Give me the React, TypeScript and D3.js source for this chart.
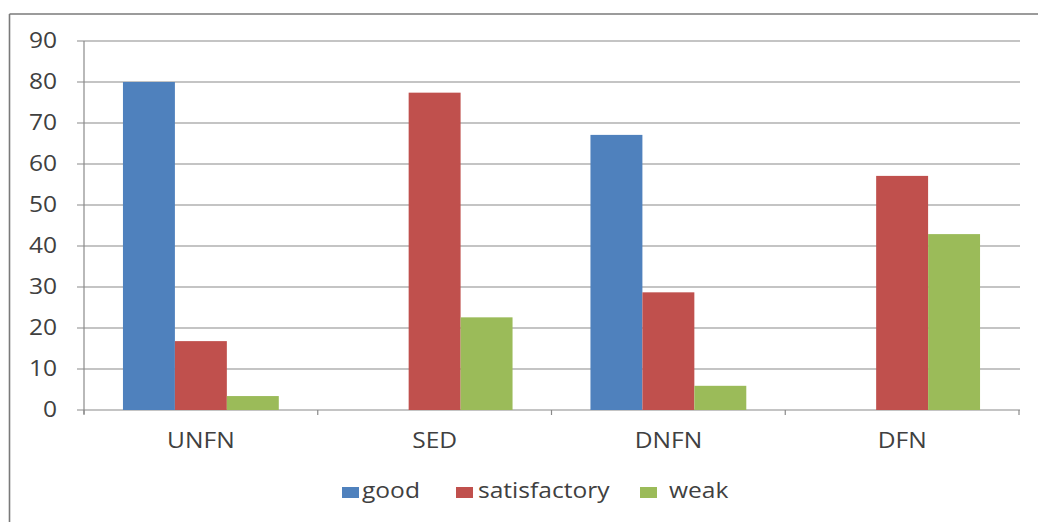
import React from "react";
import * as d3 from "d3";

const categories = ["UNFN", "SED", "DNFN", "DFN"];
const seriesNames = ["good", "satisfactory", "weak"];
const good = [80, 0, 67.1, 0];
const satisfactory = [16.8, 77.4, 28.7, 57.1];
const weak = [3.4, 22.6, 5.9, 42.9];
const yTicks = [0, 10, 20, 30, 40, 50, 60, 70, 80, 90];
const colors = ["#4F81BD", "#C0504D", "#9BBB59"];

const W = 1038;
const H = 522;
const plot = { left: 84, right: 1019, top: 41, bottom: 410 };
const font = "'Open Sans', 'Noto Sans', sans-serif";
const textColor = "#404040";
const axisColor = "#8a8a8a";
const stretch = 1.17;

// Text drawn slightly widened, anchored at (x, y)
function Label(props: { x: number; y: number; anchor?: "start" | "middle" | "end"; size?: number; children: React.ReactNode }) {
  const { x, y, anchor = "start", size = 21, children } = props;
  return (
    <g transform={`translate(${x},${y}) scale(${stretch},1)`}>
      <text x={0} y={0} textAnchor={anchor} fontFamily={font} fontSize={size} fill={textColor}>
        {children}
      </text>
    </g>
  );
}

export default function App() {
  const values = [good, satisfactory, weak];
  const x = d3.scaleBand().domain(categories).range([plot.left, plot.right]).paddingInner(0).paddingOuter(0);
  const bw = x.bandwidth() / 4.5;
  const xs = d3
    .scaleBand()
    .domain(seriesNames)
    .range([bw * 0.75, bw * 3.75]);
  const y = d3.scaleLinear().domain([0, 90]).range([plot.bottom, plot.top]);

  const boundaries = d3.range(categories.length + 1).map((i) => plot.left + i * x.bandwidth());

  const legendItems = [
    { name: "good", sx: 342, tx: 362 },
    { name: "satisfactory", sx: 456, tx: 478 },
    { name: "weak", sx: 640, tx: 669 },
  ];

  return (
    <svg
      width={W}
      height={H}
      style={{ position: "absolute", left: 0, top: 0, background: "#fff" }}
    >
      <rect x={0} y={0} width={W} height={H} fill="#fff" />
      {/* chart frame */}
      <line x1={9.5} y1={14} x2={W} y2={14} stroke="#7a7a7a" strokeWidth={1.6} />
      <line x1={9.5} y1={14} x2={9.5} y2={H} stroke="#7a7a7a" strokeWidth={1.6} />

      {/* gridlines and y ticks */}
      {yTicks.map((t) => (
        <g key={t}>
          <line
            x1={plot.left - 7}
            x2={plot.right + 1}
            y1={y(t)}
            y2={y(t)}
            stroke={axisColor}
            strokeWidth={1.2}
          />
          <Label x={57} y={y(t) + 6.5} anchor="end">
            {t}
          </Label>
        </g>
      ))}
      <line x1={plot.left} x2={plot.left} y1={plot.top} y2={plot.bottom + 4} stroke={axisColor} strokeWidth={1.2} />
      {boundaries.map((b, i) => (
        <line key={i} x1={b} x2={b} y1={plot.bottom} y2={plot.bottom + 5} stroke={axisColor} strokeWidth={1.2} />
      ))}

      {/* bars */}
      {values.map((vals, si) =>
        vals.map((v, ci) =>
          v > 0 ? (
            <rect
              key={`${si}-${ci}`}
              x={(x(categories[ci]) as number) + (xs(seriesNames[si]) as number)}
              y={y(v)}
              width={xs.bandwidth()}
              height={y(0) - y(v)}
              fill={colors[si]}
            />
          ) : null
        )
      )}

      {/* category labels */}
      {categories.map((c) => (
        <Label key={c} x={(x(c) as number) + x.bandwidth() / 2} y={448} anchor="middle">
          {c}
        </Label>
      ))}

      {/* legend */}
      {legendItems.map((it, i) => (
        <g key={it.name}>
          <rect x={it.sx} y={487} width={17} height={11} fill={colors[i]} />
          <Label x={it.tx} y={498}>
            {it.name}
          </Label>
        </g>
      ))}
    </svg>
  );
}
